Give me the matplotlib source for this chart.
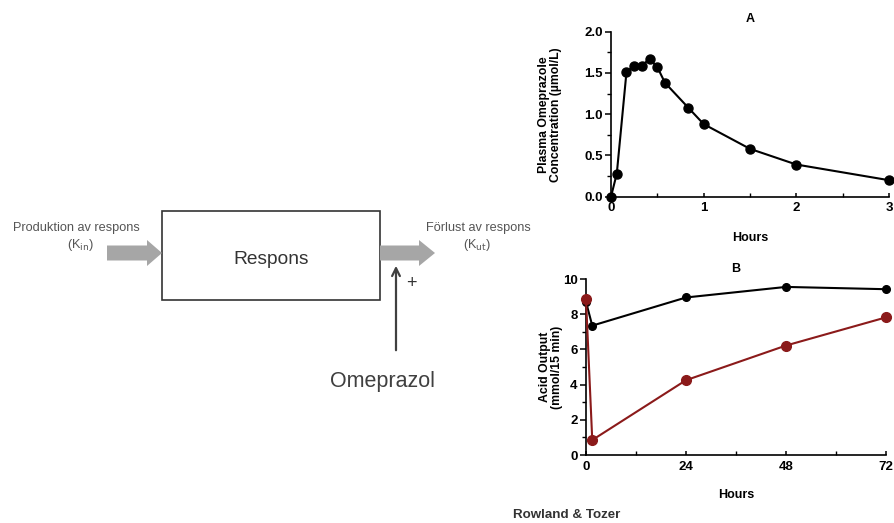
import matplotlib
matplotlib.use("Agg")
import matplotlib.pyplot as plt
from matplotlib.patches import Rectangle, FancyArrow
from matplotlib.ticker import MultipleLocator

# ---- data ----
time_a = [0, 0.0625, 0.167, 0.25, 0.333, 0.417, 0.5, 0.583, 0.833, 1.0, 1.5, 2.0, 3.0]
conc_a = [0.0, 0.28, 1.51, 1.59, 1.59, 1.67, 1.57, 1.38, 1.08, 0.88, 0.58, 0.39, 0.20]

time_b = [0, 1.5, 24, 48, 72]
control_b = [8.7, 7.35, 8.95, 9.55, 9.42]
omeprazole_b = [8.85, 0.85, 4.25, 6.22, 7.82]

xticks_a = [0, 1, 2, 3]
yticks_a = [0.0, 0.5, 1.0, 1.5, 2.0]
xticks_b = [0, 24, 48, 72]
yticks_b = [0, 2, 4, 6, 8, 10]

plt.rcParams['font.family'] = ['Liberation Sans', 'DejaVu Sans']

W, H = 895, 523
fig = plt.figure(figsize=(W / 100, H / 100), dpi=100)

# ---- diagram layer ----
d = fig.add_axes([0, 0, 1, 1])
d.set_xlim(0, W)
d.set_ylim(H, 0)
d.axis('off')

d.add_patch(Rectangle((162, 211), 218, 89, fill=False, edgecolor='#333333', lw=1.2))
d.text(271, 259, 'Respons', ha='center', va='center', fontsize=13.8, color='#333333')

gray = '#a6a6a6'
d.add_patch(FancyArrow(107, 253, 55, 0, width=15, head_width=26, head_length=15,
                       length_includes_head=True, color=gray, ec='none'))
d.add_patch(FancyArrow(380, 253, 55, 0, width=15, head_width=26, head_length=16,
                       length_includes_head=True, color=gray, ec='none'))
d.annotate('', xy=(396, 263), xytext=(396, 353),
           arrowprops=dict(arrowstyle='->', color='#404040', lw=1.6,
                           mutation_scale=14))
d.text(411, 284, '+', ha='center', va='center', fontsize=13, color='#333333')
d.text(383, 382, 'Omeprazol', ha='center', va='center', fontsize=15.5, color='#404040')

d.text(140, 228, 'Produktion av respons', ha='right', va='center', fontsize=9.2, color='#555555')
d.text(80, 245, r'(K$_{\mathrm{in}}$)', ha='center', va='center', fontsize=9.2, color='#555555')
d.text(426, 228, 'Förlust av respons', ha='left', va='center', fontsize=9.2, color='#555555')
d.text(477, 245, r'(K$_{\mathrm{ut}}$)', ha='center', va='center', fontsize=9.2, color='#555555')

d.text(567, 515, 'Rowland & Tozer', ha='center', va='center', fontsize=9.6,
       fontweight='bold', color='#333333')


def style_axes(ax):
    for s in ['top', 'right']:
        ax.spines[s].set_visible(False)
    for s in ['left', 'bottom']:
        ax.spines[s].set_linewidth(1.2)
    ax.tick_params(axis='y', which='major', direction='out', length=4, width=1.1,
                   labelsize=9.5, pad=2)
    ax.tick_params(axis='y', which='minor', direction='out', length=3, width=1.0)
    ax.tick_params(axis='x', which='major', direction='in', length=3, width=1.1,
                   labelsize=9.5, pad=4)
    ax.tick_params(axis='x', which='minor', direction='in', length=3, width=1.0)
    for lab in ax.get_xticklabels() + ax.get_yticklabels():
        lab.set_fontweight('bold')


# ---- chart A ----
axA = fig.add_axes([611 / W, 1 - 196.7 / H, 278 / W, 165 / H])
axA.plot(time_a, conc_a, color='black', lw=1.5, marker='o', markersize=6.5,
         clip_on=False, zorder=3)
axA.set_xlim(0, 3)
axA.set_ylim(0, 2)
axA.set_xticks(xticks_a)
axA.set_yticks(yticks_a)
axA.set_yticklabels([f'{v:.1f}' for v in yticks_a])
axA.xaxis.set_minor_locator(MultipleLocator(0.5))
axA.yaxis.set_minor_locator(MultipleLocator(0.25))
style_axes(axA)
axA.set_xlabel('Hours', fontsize=9, fontweight='bold', labelpad=13)
axA.set_ylabel('Plasma Omeprazole\nConcentration (µmol/L)', fontsize=8.8,
               fontweight='bold', linespacing=1.0)
axA.yaxis.set_label_coords(-0.176, 0.5)
axA.set_title('A', fontsize=9, fontweight='bold', pad=7)

# ---- chart B ----
axB = fig.add_axes([586 / W, 1 - 455 / H, 300 / W, 176 / H])
axB.plot(time_b, control_b, color='black', lw=1.5, marker='o', markersize=5.5,
         clip_on=False, zorder=3)
axB.plot(time_b, omeprazole_b, color='#8b1a1a', lw=1.5, marker='o', markersize=7,
         clip_on=False, zorder=4)
axB.set_xlim(0, 72)
axB.set_ylim(0, 10)
axB.set_xticks(xticks_b)
axB.set_yticks(yticks_b)
axB.xaxis.set_minor_locator(MultipleLocator(12))
axB.yaxis.set_minor_locator(MultipleLocator(1))
style_axes(axB)
axB.set_xlabel('Hours', fontsize=9, fontweight='bold', labelpad=12)
axB.set_ylabel('Acid Output\n(mmol/15 min)', fontsize=8.8, fontweight='bold',
               linespacing=1.0)
axB.yaxis.set_label_coords(-0.077, 0.5)
axB.set_title('B', fontsize=9, fontweight='bold', pad=5)

fig.savefig('out.png', dpi=100)
